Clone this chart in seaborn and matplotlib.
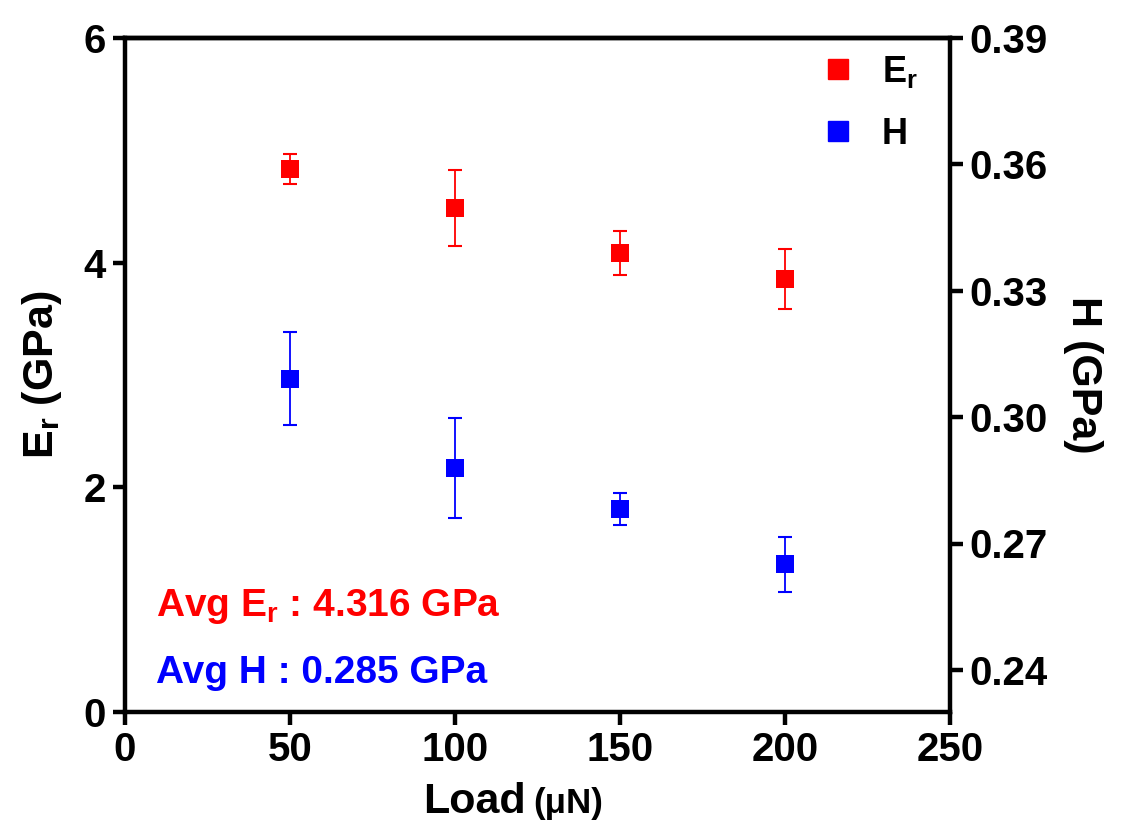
import numpy as np
import pandas as pd
import seaborn as sns
import matplotlib.pyplot as plt
from matplotlib import font_manager
from matplotlib.lines import Line2D

# data
load = [50, 100, 150, 200]
er_mean = [4.834, 4.487, 4.086, 3.855]
er_err = [0.133, 0.34, 0.20, 0.267]
h_mean = [0.3091, 0.2879, 0.2782, 0.2651]
h_err = [0.011, 0.0118, 0.0039, 0.0065]
x_ticks = [0, 50, 100, 150, 200, 250]
er_ticks = [0, 2, 4, 6]
h_ticks = [0.24, 0.27, 0.30, 0.33, 0.36, 0.39]

sns.set_style('ticks')

# pick a condensed bold font if there is one
fam = 'Liberation Sans'
try:
    font_manager.findfont('Liberation Sans Narrow', fallback_to_default=False)
    fam = 'Liberation Sans Narrow'
except Exception:
    pass
plt.rcParams['font.family'] = [fam, 'DejaVu Sans']
plt.rcParams['font.weight'] = 'bold'
plt.rcParams['text.color'] = 'black'
plt.rcParams['axes.labelcolor'] = 'black'
plt.rcParams['xtick.color'] = 'black'
plt.rcParams['ytick.color'] = 'black'
plt.rcParams['axes.edgecolor'] = 'black'
plt.rcParams['mathtext.fontset'] = 'custom'
plt.rcParams['mathtext.rm'] = fam + ':bold'
plt.rcParams['mathtext.it'] = fam + ':bold'
plt.rcParams['mathtext.bf'] = fam + ':bold'
plt.rcParams['mathtext.default'] = 'rm'

df = pd.DataFrame({'load': load, 'Er': er_mean, 'H': h_mean})

fig = plt.figure(figsize=(11.26, 8.25), dpi=100)
ax = fig.add_axes([125 / 1126, 113 / 825, 825 / 1126, 674 / 825])
ax2 = ax.twinx()

ax.errorbar(load, er_mean, yerr=er_err, fmt='none', ecolor='red',
            elinewidth=1.3, capsize=5, capthick=1.5, zorder=2)
sns.scatterplot(data=df, x='load', y='Er', ax=ax, marker='s', color='red',
                s=170, linewidth=0, zorder=3, legend=False)

ax2.errorbar(load, h_mean, yerr=h_err, fmt='none', ecolor='blue',
             elinewidth=1.3, capsize=5, capthick=1.5, zorder=2)
sns.scatterplot(data=df, x='load', y='H', ax=ax2, marker='s', color='blue',
                s=170, linewidth=0, zorder=3, legend=False)

ax.set_xlim(0, 250)
ax.set_ylim(0, 6)
ax2.set_ylim(0.23, 0.39)
ax.set_xticks(x_ticks)
ax.set_yticks(er_ticks)
ax2.set_yticks(h_ticks)
ax2.set_yticklabels([f'{t:.2f}' for t in h_ticks])

for a in (ax, ax2):
    for s in ('left', 'right', 'bottom', 'top'):
        a.spines[s].set_linewidth(3.2)
        a.spines[s].set_color('black')
    a.tick_params(axis='both', which='major', length=9, width=3.2,
                  labelsize=29, direction='out', pad=5)
ax.spines['right'].set_visible(False)
ax2.spines['left'].set_visible(False)
ax2.spines['bottom'].set_visible(False)

ax.set_xlabel('')
ax.set_ylabel('$E_r$ (GPa)', fontsize=31, fontweight='bold', labelpad=14)
ax2.set_ylabel('H (GPa)', fontsize=31, fontweight='bold', rotation=270,
               labelpad=40)

fig.text(526 / 1126, 12 / 825, 'Load', fontsize=31, fontweight='bold',
         ha='right', va='baseline')
fig.text(533 / 1126, 12 / 825, '(\u03bcN)', fontsize=25, fontweight='bold',
         ha='left', va='baseline')

ax.text(0.037, 0.143, 'Avg $E_r$ : 4.316 GPa', transform=ax.transAxes,
        color='red', fontsize=28, fontweight='bold')
ax.text(0.037, 0.043, 'Avg H : 0.285 GPa', transform=ax.transAxes,
        color='blue', fontsize=28, fontweight='bold')

handles = [Line2D([], [], marker='s', color='red', linestyle='none', markersize=14),
           Line2D([], [], marker='s', color='blue', linestyle='none', markersize=14)]
ax.legend(handles, ['$E_r$', 'H'], loc='upper right', bbox_to_anchor=(1.0, 1.025),
          frameon=False, fontsize=26, labelspacing=0.75, handletextpad=0.7,
          handlelength=1.0)

fig.savefig('out.png', dpi=100)
